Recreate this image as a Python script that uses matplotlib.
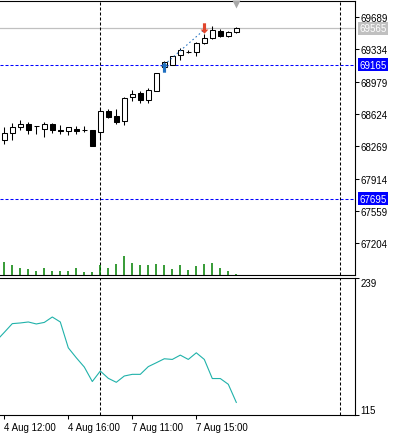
import matplotlib.pyplot as plt
from matplotlib.patches import Rectangle
from matplotlib.path import Path

plt.rcParams['font.family'] = ['Liberation Sans', 'DejaVu Sans']

# 30-minute candles
opens = [68338, 68420, 68481, 68518, 68490, 68459, 68518, 68448, 68437, 68459,
         68448, 68448, 68423, 68655, 68602, 68550, 68807, 68851, 68778, 68880,
         69140, 69165, 69272, 69310, 69301, 69400, 69455, 69535, 69477, 69521]
highs = [68480, 68520, 68560, 68533, 68495, 68533, 68525, 68503, 68485, 68495,
         68489, 68452, 68690, 68676, 68676, 68807, 68887, 68880, 68909, 69078,
         69203, 69264, 69345, 69330, 69411, 69502, 69587, 69557, 69539, 69576]
lows = [68295, 68340, 68450, 68408, 68400, 68371, 68415, 68408, 68393, 68400,
        68424, 68276, 68349, 68580, 68514, 68507, 68763, 68748, 68741, 68873,
        69096, 69165, 69220, 69290, 69264, 69393, 69447, 69466, 69466, 69513]
closes = [68415, 68481, 68510, 68452, 68487, 68518, 68445, 68440, 68481, 68437,
          68443, 68276, 68657, 68594, 68536, 68800, 68844, 68778, 68887, 69071,
          69192, 69257, 69323, 69305, 69400, 69462, 69546, 69477, 69521, 69565]
volumes = [1270, 970, 670, 570, 370, 670, 370, 370, 370, 670,
           270, 270, 970, 670, 1070, 1870, 1170, 970, 970, 1070,
           970, 570, 970, 470, 870, 1070, 1170, 670, 370, 100]

# indicator values, bar -1 .. 29
osc = [182.1, 189.8, 197.7, 198.3, 199.2, 197.4, 198.8, 203.7, 199.2, 175.8,
       166.8, 158.4, 145.3, 154.8, 148.2, 144.6, 150.3, 151.8, 151.8, 158.8,
       162.3, 165.9, 165.3, 169.2, 165.3, 171.3, 165.3, 148.0, 148.0, 142.8,
       126.4]

price_ticks = [69689, 69334, 68979, 68624, 68269, 67914, 67559, 67204]
x_label_pos = [0, 8, 16, 24]
x_labels = ['4 Aug 12:00', '4 Aug 16:00', '7 Aug 11:00', '7 Aug 15:00']
bid = 69565
levels = [69165, 67695]
separators = [12, 42]
entry_bar, entry_price = 20, 69165
exit_bar, exit_price = 25, 69550

W, H = 398, 435
fig = plt.figure(figsize=(W / 100, H / 100), dpi=100)
ax = fig.add_axes([0, 1 - 276 / H, 355 / W, 274 / H])
ax2 = fig.add_axes([0, 1 - 416 / H, 355 / W, 137 / H], sharex=ax)

dash = (0, (2.9, 1.9))

# candles
for i in range(len(opens)):
    o, h, l, c = opens[i], highs[i], lows[i], closes[i]
    ax.vlines(i, l, h, color='black', lw=0.75, zorder=3)
    fc = 'white' if c >= o else 'black'
    ax.add_patch(Rectangle((i - 0.3, min(o, c)), 0.6, abs(c - o),
                           facecolor=fc, edgecolor='black', lw=0.75, zorder=4))

ax.axhline(bid, color='#c0c0c0', lw=0.9, zorder=1)
for lv in levels:
    ax.axhline(lv, color='#0000ff', lw=0.75, ls=dash, zorder=2)
for s in separators:
    ax.axvline(s, color='black', lw=0.75, ls=dash, zorder=2)
    ax2.axvline(s, color='black', lw=0.75, ls=dash, zorder=2)

# trade line and arrows
up = Path([(0, 1), (-0.75, 0.2), (-0.3, 0.2), (-0.3, -1), (0.3, -1),
           (0.3, 0.2), (0.75, 0.2), (0, 1)])
down = Path([(x, -y) for x, y in up.vertices])
ax.plot([entry_bar, exit_bar], [entry_price, exit_price], color='#1f6fc0',
        lw=0.75, ls=(0, (1.5, 2.5)), zorder=5)
ax.plot(entry_bar, 69135, marker=up, ms=7.5, color='#1f6fc0', mec='none', zorder=6)
ax.plot(exit_bar, 69572, marker=down, ms=7.5, color='#e0452c', mec='none', zorder=6)

ax.set_xlim(-4.3 / 8, (355 - 4.3) / 8)
ax.set_ylim(66856, 69865)

# volumes
axv = ax.twinx()
axv.set_ylim(0, 27400)
axv.vlines(range(len(volumes)), 0, volumes, color='#008000', lw=1.1)
axv.set_axis_off()

# shift marker
ax.plot(29, 0.988, marker='v', ms=6, color='#a9a9a9', mec='none',
        transform=ax.get_xaxis_transform(), clip_on=False, zorder=7)

ax.yaxis.tick_right()
ax.set_yticks(price_ticks)
ax.set_yticklabels([str(p) for p in price_ticks])
ax.tick_params(axis='y', direction='out', length=3, width=0.75, pad=1, labelsize=7)
ax.tick_params(axis='x', length=0, labelbottom=False)
ax.spines['left'].set_visible(False)
for sp in ['top', 'right', 'bottom']:
    ax.spines[sp].set_linewidth(0.8)

# price boxes
boxes = [(bid, '#c0c0c0'), (levels[0], '#0000ff'), (levels[1], '#0000ff')]
for val, col in boxes:
    ax.text(1.012, val, str(val), transform=ax.get_yaxis_transform(), fontsize=7,
            color='white', va='center', ha='left', clip_on=False, zorder=8,
            bbox=dict(boxstyle='square,pad=0.15', fc=col, ec='none'))

# indicator panel
ax2.plot(range(-1, len(osc) - 1), osc, color='#20b2aa', lw=0.8)
ax2.set_ylim(115, 239)
ax2.yaxis.tick_right()
ax2.set_yticks([239, 115])
ax2.set_yticklabels(['239', '115'])
ylabs = ax2.get_yticklabels()
ylabs[0].set_va('top')
ylabs[1].set_va('bottom')
ax2.tick_params(axis='y', direction='out', length=3, width=0.75, pad=1, labelsize=7)
ax2.set_xticks(x_label_pos)
ax2.set_xticklabels(x_labels, ha='left')
ax2.tick_params(axis='x', direction='out', length=3, width=0.75, pad=2, labelsize=7)
ax2.spines['left'].set_visible(False)
for sp in ['top', 'right', 'bottom']:
    ax2.spines[sp].set_linewidth(0.8)

fig.savefig('out.png', dpi=100)
